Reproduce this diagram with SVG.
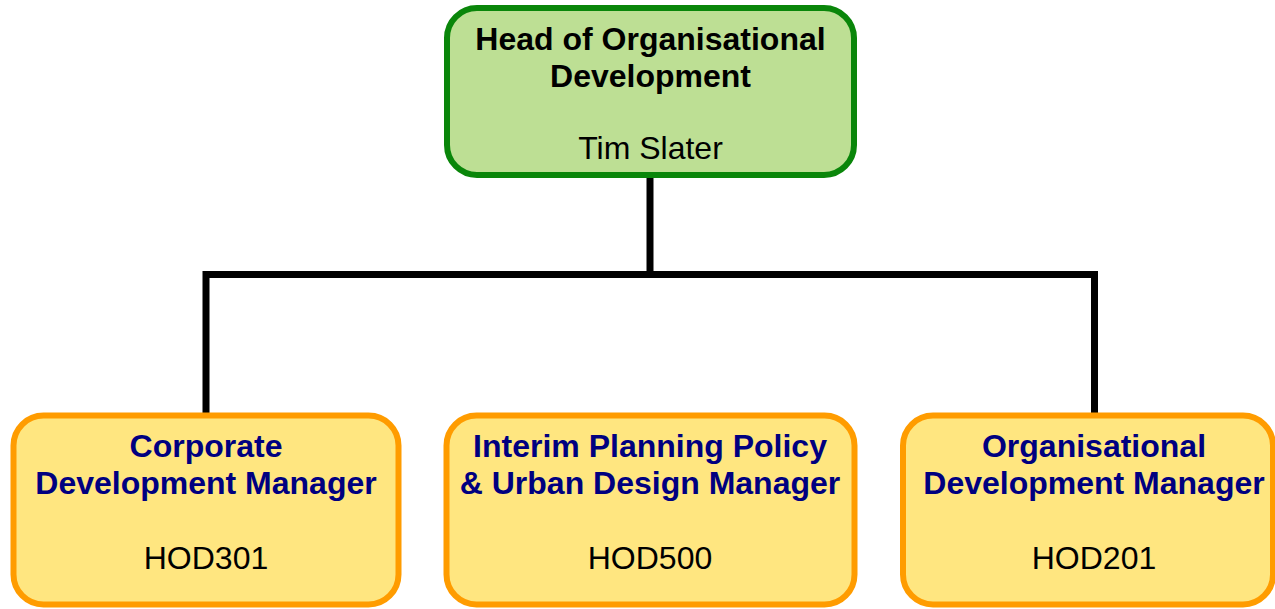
<svg xmlns="http://www.w3.org/2000/svg" width="1275" height="609" viewBox="0 0 1275 609">
<style>
.top{fill:#BDDF94;stroke:#0A860A;stroke-width:6}
.sub{fill:#FFE680;stroke:#FF9C00;stroke-width:6}
.t{font-family:"Liberation Sans",Arial,sans-serif;font-size:32px;text-anchor:middle}
.b{font-weight:bold}
.navy{fill:#000080}
.conn{fill:none;stroke:#000;stroke-width:7;stroke-linecap:butt;stroke-linejoin:miter}
</style>
<rect width="1275" height="609" fill="#fff"/>
<g id="connectors">
<path class="conn" d="M650 178 V274.5"/>
<path class="conn" d="M206 413 V274.5 H1094.5 V413"/>
</g>
<g id="head">
<rect class="top" x="447" y="8" width="407" height="167" rx="30"/>
<text class="t b" x="650.5" y="50">Head of Organisational</text>
<text class="t b" x="650.5" y="86.5">Development</text>
<text class="t" x="650.5" y="158.5">Tim Slater</text>
</g>
<g id="hod301">
<rect class="sub" x="13.5" y="415.5" width="385" height="189" rx="30"/>
<text class="t b navy" x="206" y="457">Corporate</text>
<text class="t b navy" x="206" y="493.5">Development Manager</text>
<text class="t" x="206" y="568.5">HOD301</text>
</g>
<g id="hod500">
<rect class="sub" x="446.5" y="415.5" width="408" height="189" rx="30"/>
<text class="t b navy" x="650" y="457">Interim Planning Policy</text>
<text class="t b navy" x="650" y="493.5">&amp; Urban Design Manager</text>
<text class="t" x="650" y="568.5">HOD500</text>
</g>
<g id="hod201">
<rect class="sub" x="903" y="415.5" width="370" height="189" rx="30"/>
<text class="t b navy" x="1094" y="457">Organisational</text>
<text class="t b navy" x="1094" y="493.5">Development Manager</text>
<text class="t" x="1094" y="568.5">HOD201</text>
</g>
</svg>
